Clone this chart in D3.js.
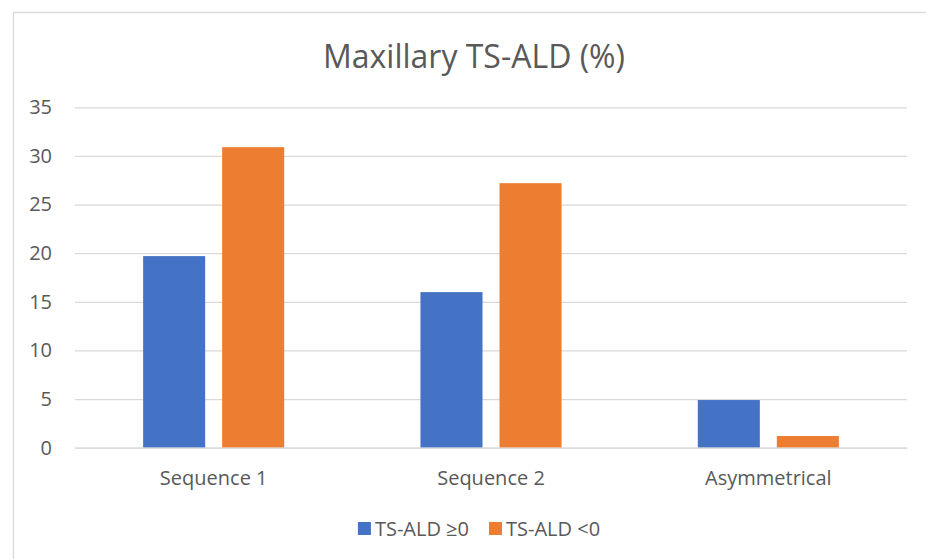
<!DOCTYPE html>
<html>
<head>
<meta charset="utf-8">
<script src="https://cdn.jsdelivr.net/npm/d3@7"></script>
<style>
  body { margin: 0; background: #fff; }
  svg { display: block; font-family: "Open Sans", sans-serif; }
</style>
</head>
<body>
<script>
const W = 926, H = 559;

// data
const categories = ["Sequence 1", "Sequence 2", "Asymmetrical"];
const seriesNames = ["TS-ALD ≥0", "TS-ALD <0"];
const tsAldPos = [19.7, 16.0, 4.9];
const tsAldNeg = [30.9, 27.2, 1.2];
const yTicks = [0, 5, 10, 15, 20, 25, 30, 35];
const colors = ["#4472C4", "#ED7D31"];

const series = [tsAldPos, tsAldNeg];
const rows = categories.map((c, i) => ({
  cat: c,
  vals: seriesNames.map((s, j) => ({ key: s, value: series[j][i], color: colors[j] }))
}));

const TEXT = "#595959", GRID = "#d9d9d9";
const plot = { left: 75, right: 907, top: 107.3, bottom: 447.7 };

const svg = d3.select("body").append("svg")
  .attr("width", W)
  .attr("height", H);

svg.append("rect").attr("width", W).attr("height", H).attr("fill", "#fff");

// chart border (runs off the right/bottom edge)
svg.append("rect")
  .attr("x", 13.5).attr("y", 12.5)
  .attr("width", W + 20).attr("height", H + 20)
  .attr("fill", "none")
  .attr("stroke", GRID)
  .attr("stroke-width", 1.3);

// title
svg.append("text")
  .attr("x", 474).attr("y", 68)
  .attr("text-anchor", "middle")
  .attr("fill", TEXT)
  .attr("font-size", 32)
  .text("Maxillary TS-ALD (%)");

const y = d3.scaleLinear().domain([0, 35]).range([plot.bottom, plot.top]);
const x0 = d3.scaleBand().domain(categories).range([plot.left, plot.right]);
const x1 = d3.scaleBand().domain(seriesNames)
  .range([0, x0.bandwidth()])
  .paddingInner(0.215)
  .paddingOuter(0.862);

// y axis + gridlines
const gy = svg.append("g")
  .attr("transform", `translate(${plot.left},0)`)
  .call(d3.axisLeft(y)
    .tickValues(yTicks)
    .tickSizeInner(-(plot.right - plot.left))
    .tickSizeOuter(0)
    .tickPadding(23));
gy.select(".domain").remove();
gy.selectAll(".tick line").attr("stroke", GRID).attr("stroke-width", 1.3);
gy.selectAll(".tick text")
  .attr("fill", TEXT)
  .attr("font-size", 20)
  .attr("font-family", "Open Sans, sans-serif");

// bars
const groups = svg.append("g").selectAll("g")
  .data(rows)
  .join("g")
  .attr("transform", d => `translate(${x0(d.cat)},0)`);

groups.selectAll("rect")
  .data(d => d.vals)
  .join("rect")
  .attr("x", d => x1(d.key))
  .attr("y", d => y(d.value))
  .attr("width", x1.bandwidth())
  .attr("height", d => y(0) - y(d.value))
  .attr("fill", d => d.color);

// x axis
const gx = svg.append("g")
  .attr("transform", `translate(0,${plot.bottom})`)
  .call(d3.axisBottom(x0).tickSize(0).tickPadding(23));
gx.select(".domain").attr("stroke", GRID).attr("stroke-width", 1.3);
gx.selectAll(".tick text")
  .attr("fill", TEXT)
  .attr("font-size", 20)
  .attr("font-family", "Open Sans, sans-serif");

// legend
const legend = svg.append("g");
const items = legend.selectAll("g")
  .data(seriesNames)
  .join("g");
items.append("rect")
  .attr("width", 13).attr("height", 13)
  .attr("y", 522)
  .attr("fill", (d, i) => colors[i]);
items.append("text")
  .attr("x", 17).attr("y", 535.7)
  .attr("fill", TEXT)
  .attr("font-size", 20)
  .text(d => d);

let off = 0;
const widths = [];
items.each(function () {
  const w = 17 + d3.select(this).select("text").node().getComputedTextLength();
  widths.push(w);
});
const gap = 20;
const total = d3.sum(widths) + gap * (widths.length - 1);
let start = 479 - total / 2;
items.attr("transform", (d, i) => {
  const t = `translate(${start + off},0)`;
  off += widths[i] + gap;
  return t;
});
</script>
</body>
</html>
